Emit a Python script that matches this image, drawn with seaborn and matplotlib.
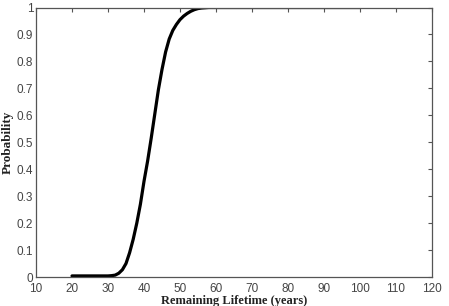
import matplotlib
matplotlib.use("Agg")
import matplotlib.pyplot as plt
import seaborn as sns
import pandas as pd

# Data
lifetime = [20, 25, 30, 31, 32, 33, 34, 35, 36, 37, 38, 39, 40, 41, 42, 43,
            44, 45, 46, 47, 48, 49, 50, 51, 52, 53, 54, 55, 56, 57, 58, 60,
            70, 80, 90, 100]
probability = [0.004, 0.004, 0.004, 0.005, 0.007, 0.014, 0.027, 0.05, 0.09,
               0.14, 0.2, 0.27, 0.355, 0.43, 0.515, 0.605, 0.695, 0.77, 0.835,
               0.883, 0.915, 0.937, 0.955, 0.968, 0.978, 0.986, 0.992, 0.996,
               0.998, 0.999, 1.0, 1.0, 1.0, 1.0, 1.0, 1.0]
xticks = [10, 20, 30, 40, 50, 60, 70, 80, 90, 100, 110, 120]
yticks = [0, 0.1, 0.2, 0.3, 0.4, 0.5, 0.6, 0.7, 0.8, 0.9, 1]
ytick_labels = ["0", "0.1", "0.2", "0.3", "0.4", "0.5", "0.6", "0.7", "0.8", "0.9", "1"]

df = pd.DataFrame({"x": lifetime, "p": probability})

sns.set_style("white")
fig = plt.figure(figsize=(4.49, 3.06), dpi=100)
ax = fig.add_axes([36 / 449, 1 - 277 / 306, (432 - 36) / 449, (277 - 7.5) / 306])

sns.lineplot(data=df, x="x", y="p", ax=ax, color="black", linewidth=2.3,
             legend=False)

ax.set_xlim(10, 120)
ax.set_ylim(0, 1)
ax.set_xticks(xticks)
ax.set_xticklabels([str(t) for t in xticks])
ax.set_yticks(yticks)
ax.set_yticklabels(ytick_labels)

tick_color = "#444444"
for s in ax.spines.values():
    s.set_color("#555555")
    s.set_linewidth(0.9)
    s.set_visible(True)

ax.tick_params(axis="both", direction="in", length=3, width=0.8,
               colors="#555555", labelcolor=tick_color, labelsize=8.5,
               top=True, right=True)
ax.tick_params(axis="x", pad=4)
ax.tick_params(axis="y", pad=2)
for lab in ax.get_xticklabels() + ax.get_yticklabels():
    lab.set_fontfamily("Liberation Sans")

ax.set_xlabel("Remaining Lifetime (years)", fontfamily="Liberation Serif",
              fontweight="bold", fontsize=9, color="#222222", labelpad=0)
ax.set_ylabel("Probability", fontfamily="Liberation Serif",
              fontweight="bold", fontsize=9.5, color="#222222", labelpad=2)

fig.savefig("out.png", dpi=100, facecolor="white")
